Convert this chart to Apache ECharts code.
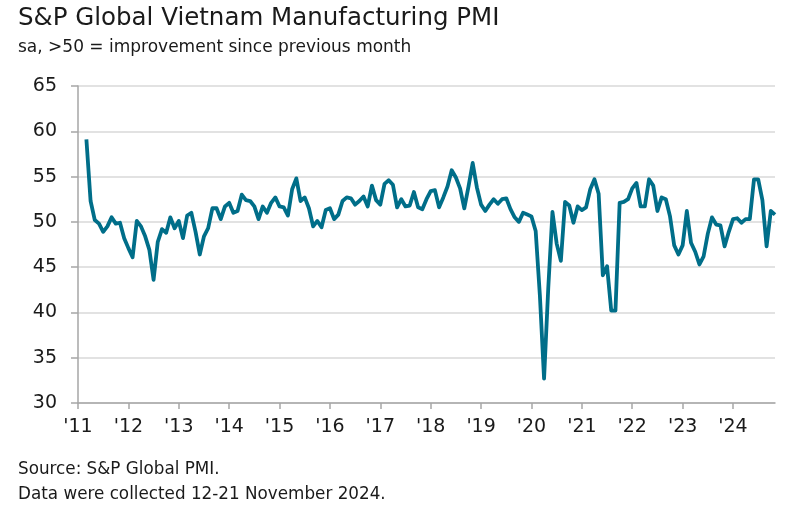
<!DOCTYPE html>
<html>
<head>
<meta charset="utf-8">
<script src="https://cdn.jsdelivr.net/npm/echarts@6/dist/echarts.min.js"></script>
<style>
html,body{margin:0;padding:0;background:#fff;}
#c{width:808px;height:507px;}
</style>
</head>
<body>
<div id="c"></div>
<script>
// Monthly PMI, March 2011 to November 2024
const startYear = 2011;
const startMonth = 3; // March
const pmi2011 = [59.1, 52.3, 50.2, 49.8, 48.9, 49.5, 50.5, 49.8, 49.9, 48.2];
const pmi2012 = [47.1, 46.1, 50.1, 49.5, 48.4, 46.9, 43.6, 47.8, 49.2, 48.8, 50.5, 49.3];
const pmi2013 = [50.1, 48.2, 50.7, 51.0, 48.9, 46.4, 48.4, 49.3, 51.5, 51.5, 50.3, 51.7];
const pmi2014 = [52.1, 51.0, 51.2, 53.0, 52.4, 52.3, 51.7, 50.3, 51.7, 51.0, 52.1, 52.7];
const pmi2015 = [51.7, 51.6, 50.7, 53.6, 54.8, 52.3, 52.7, 51.5, 49.5, 50.1, 49.4, 51.3];
const pmi2016 = [51.5, 50.3, 50.8, 52.3, 52.7, 52.6, 51.9, 52.3, 52.8, 51.7, 54.0, 52.4];
const pmi2017 = [51.9, 54.2, 54.6, 54.1, 51.6, 52.5, 51.7, 51.8, 53.3, 51.6, 51.4, 52.5];
const pmi2018 = [53.4, 53.5, 51.6, 52.7, 53.9, 55.7, 54.9, 53.7, 51.5, 53.9, 56.5, 53.8];
const pmi2019 = [51.9, 51.2, 51.9, 52.5, 52.0, 52.5, 52.6, 51.4, 50.5, 50.0, 51.0, 50.8];
const pmi2020 = [50.6, 49.0, 41.9, 32.7, 42.7, 51.1, 47.6, 45.7, 52.2, 51.8, 49.9, 51.7];
const pmi2021 = [51.3, 51.6, 53.6, 54.7, 53.1, 44.1, 45.1, 40.2, 40.2, 52.1, 52.2, 52.5];
const pmi2022 = [53.7, 54.3, 51.7, 51.7, 54.7, 54.0, 51.2, 52.7, 52.5, 50.6, 47.4, 46.4];
const pmi2023 = [47.4, 51.2, 47.7, 46.7, 45.3, 46.2, 48.7, 50.5, 49.7, 49.6, 47.3, 48.9];
const pmi2024 = [50.3, 50.4, 49.9, 50.3, 50.3, 54.7, 54.7, 52.4, 47.3, 51.2, 50.8];

const yearTickLabels = ["'11","'12","'13","'14","'15","'16","'17","'18","'19","'20","'21","'22","'23","'24"];
const yTicks = [30, 35, 40, 45, 50, 55, 60, 65];

const allValues = [].concat(pmi2011, pmi2012, pmi2013, pmi2014, pmi2015, pmi2016, pmi2017,
  pmi2018, pmi2019, pmi2020, pmi2021, pmi2022, pmi2023, pmi2024);
const seriesData = allValues.map((v, i) => {
  const m = (startMonth - 1) + i;
  return [startYear + m / 12, v];
});
const lastX = seriesData[seriesData.length - 1][0];

const chart = echarts.init(document.getElementById('c'), null, {renderer: 'canvas'});
const FONT = '"DejaVu Sans", "Noto Sans", sans-serif';
const TXT = '#1a1a1a';
chart.setOption({
  animation: false,
  backgroundColor: '#ffffff',
  title: [
    {text: 'S&P Global Vietnam Manufacturing PMI', left: 13, top: 1,
      textStyle: {fontFamily: FONT, fontSize: 24.5, fontWeight: 'normal', color: TXT}},
    {text: 'sa, >50 = improvement since previous month', left: 13, top: 34,
      textStyle: {fontFamily: FONT, fontSize: 17, fontWeight: 'normal', color: TXT}},
    {text: 'Source: S&P Global PMI.', left: 13, top: 456,
      textStyle: {fontFamily: FONT, fontSize: 16.8, fontWeight: 'normal', color: TXT}},
    {text: 'Data were collected 12-21 November 2024.', left: 13, top: 481,
      textStyle: {fontFamily: FONT, fontSize: 16.8, fontWeight: 'normal', color: TXT}}
  ],
  grid: {left: 78, right: 33, top: 86, bottom: 104, containLabel: false},
  xAxis: {
    type: 'value', min: startYear, max: lastX, interval: 1,
    axisLine: {show: true, lineStyle: {color: '#a6a6a6', width: 1.5}},
    axisTick: {show: true, length: 6, lineStyle: {color: '#a6a6a6', width: 1.5}},
    splitLine: {show: false},
    axisLabel: {
      showMaxLabel: false, margin: 15, color: TXT, fontSize: 19, fontFamily: FONT,
      formatter: v => { const k = Math.round(v) - startYear; return (Math.abs(v - Math.round(v)) < 1e-6 && yearTickLabels[k]) ? yearTickLabels[k] : ''; }
    }
  },
  yAxis: {
    type: 'value', min: yTicks[0], max: yTicks[yTicks.length - 1], interval: 5,
    axisLine: {show: true, lineStyle: {color: '#a6a6a6', width: 1.5}},
    axisTick: {show: true, length: 7, lineStyle: {color: '#a6a6a6', width: 1.5}},
    splitLine: {show: true, lineStyle: {color: '#d9d9d9', width: 1.5}},
    axisLabel: {margin: 21, color: TXT, fontSize: 19, fontFamily: FONT}
  },
  series: [{
    type: 'line', data: seriesData, showSymbol: false, symbol: 'none',
    lineStyle: {color: '#006e89', width: 3.8, join: 'round'},
    itemStyle: {color: '#006e89'}
  }]
});
</script>
</body>
</html>
